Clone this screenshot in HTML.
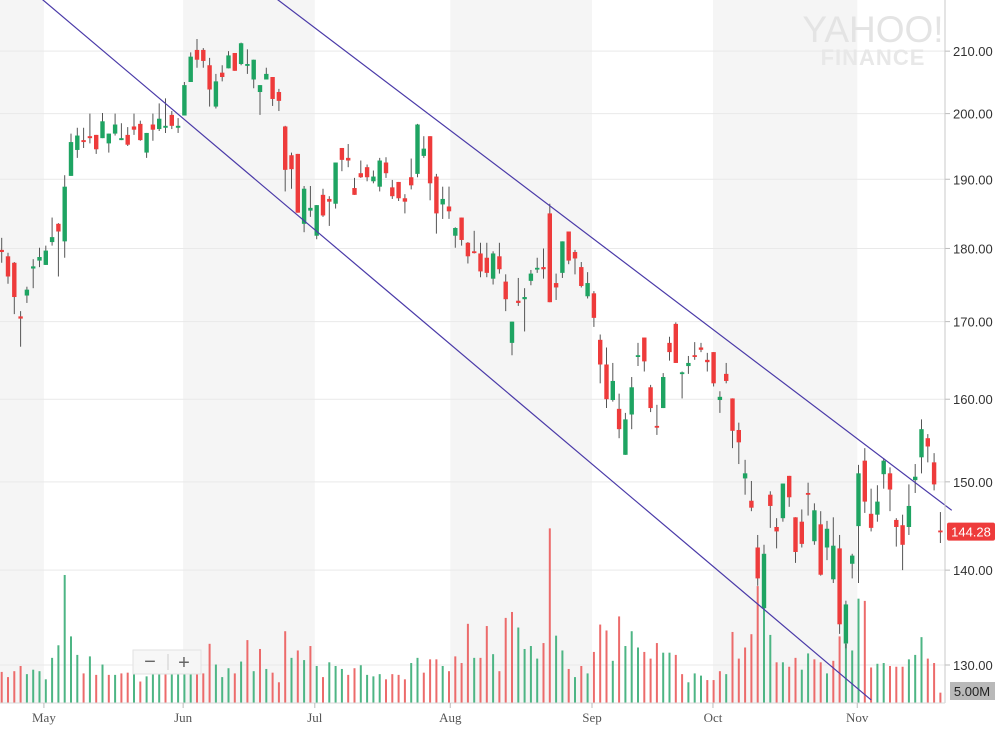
<!DOCTYPE html>
<html><head><meta charset="utf-8">
<style>
html,body{margin:0;padding:0;background:#fff;}
svg{display:block;font-family:"Liberation Sans",Arial,sans-serif;}
</style></head>
<body>
<svg id="chart" width="1000" height="734" viewBox="0 0 1000 734" xmlns="http://www.w3.org/2000/svg">
  <g id="bands"></g>
  <g id="grid"></g>
  <g>
    <text x="873" y="42" text-anchor="middle" font-size="37" fill="#e4e4e4" font-family="Liberation Sans, sans-serif">YAHOO!</text>
    <text x="873" y="65" text-anchor="middle" font-size="22" font-weight="bold" fill="#e8e8e8" letter-spacing="1">FINANCE</text>
  </g>
  <g id="vols"></g>
  <g id="candles"></g>
  <g id="trend"></g>
  <g id="axes"></g>
  <g>
    <rect x="133" y="650" width="68" height="24" fill="#f6f6f6" fill-opacity="0.9" stroke="#e2e2e2"/>
    <line x1="168" y1="654" x2="168" y2="670" stroke="#ccc"/>
    <text x="150" y="668" text-anchor="middle" font-size="20" fill="#666">−</text>
    <text x="184" y="669" text-anchor="middle" font-size="20" fill="#666">+</text>
  </g>
</svg>
<script>
const opens=[179.8,178.9,178,170.7,173.5,177.2,178.3,177.7,180.9,183.5,181,190.5,194.4,195.9,196.5,196.7,196.2,195.4,196.9,195.9,196.7,198,198.4,194,198.3,197.6,197.8,199.8,197.8,199.7,205,210.2,210.2,207.7,201.1,206.5,207.2,209.7,207.9,207.6,205.4,203.4,205.4,205.8,203.4,
198,193.6,193.8,183.5,185.4,181.8,187.7,187.1,186.4,194.7,193.2,188.7,190.9,191.8,189.7,188.9,192.5,188.8,189.6,187.2,190.3,190.8,193.5,196.5,190.4,186.3,186,181.8,184.4,180.8,
179.6,179.3,178.7,175.8,178.9,175.4,167.2,172.8,173,175.5,177.1,177.4,185,175.2,176.6,182.4,179.5,177.4,173.4,173.8,167.6,164.4,159.9,158.8,153.2,158.1,165.4,167.9,161.5,156.7,158.9,167.2,169.7,163.2,164.2,165.6,
166.6,165,166,159.9,163.2,160.1,156.2,150.4,147.8,142.5,135.9,148.5,144.8,145.8,150.7,145.9,145.4,148.7,143.2,145.1,142.5,139,142.4,132.2,140.7,144.9,152.5,146.3,146.2,150.9,151,145.6,145,144.8,150.2,152.9,155.2,152.3,144.4];
const highs=[181.5,179.4,178.1,171.4,174.7,178.5,180.1,180.4,184.4,183.6,190.6,196.9,197.8,197.8,200,196.7,200.1,196.9,200,198.5,197.9,200,198.9,197,200,201.6,202.4,200.4,199.3,205,209.8,212,210.5,208.9,206.3,207.7,210,209.7,211.4,210.3,208.6,204.5,207.3,205.8,203.9,
198.1,194,193.8,189,189,186.2,188.6,187.5,192.5,194.7,195.3,190.2,192.8,192.2,191.3,193.2,193.3,189.9,189.6,187.8,193.1,198.4,196.5,196.5,190.8,188.9,188.9,183,184.4,180.9,
182.5,180.8,180.8,179.6,180.8,176.4,170,175.9,174.5,177,178.7,180,186.4,176.5,181,182.4,179.8,178.1,176.7,174.1,168.3,166.6,164.6,160.7,158.3,162.8,167.2,167.9,161.8,159.3,163.3,168,169.9,163.5,165.5,167.3,
167.2,165.9,166,161,164.6,160.1,157.1,152.6,150.1,143.9,142.8,148.9,145.8,149.8,150.7,145.9,146.8,149.9,147.5,146.6,145.5,145.9,143.9,136.7,141.8,152,154,149.2,149.6,152.8,151.7,145.8,146.2,149.7,152.1,157.5,155.7,153.4,146.5];
const lows=[178,175.1,171,166.7,172.5,174.5,177.4,177.7,180.4,176.1,178.7,190.5,193.2,194.7,195.4,193.8,196.2,194,196.6,195.9,195,196.7,195.8,193.2,195.8,197.3,197,197.6,197,199.7,205,207.3,207.3,201.1,200.8,205.1,207.2,206.8,207.7,206.3,204,199.8,205.4,201.2,200.4,
188.2,188.6,185.1,182.3,184.5,181.3,184.5,183.2,185.7,191.2,191.8,187.7,190.2,189.7,189.4,188.2,190.2,187.1,186.8,185,188.5,190.3,193.2,186.9,182.1,184.2,184.2,180.1,180.4,177.9,
179.3,176,176,175,176.5,171.4,165.6,172.1,168.7,174.9,176.6,175.8,172.6,172.9,175.9,177.8,176.4,174.6,173.1,169.3,162,158.9,159.7,155.2,153.2,156.3,164.2,163.5,158.4,155.6,158.9,164.9,164.6,160.1,163.2,165,
166,163.5,161.6,158.3,162,154,152.1,148.5,146.6,138.3,135.9,144.7,142.4,145.4,147.1,140.8,142.5,146.1,142.8,139.4,141.1,138.6,133.2,131.7,139.1,138.6,146.4,144.3,145.4,149.2,146.6,142.6,140,143.9,148.7,151,152.3,149,143];
const closes=[179.5,176.1,173.3,170.4,174.3,177.5,178.8,179.7,181.6,182.4,188.9,195.6,196.6,195.6,196.2,194.5,198.8,196.9,198.3,196.2,195.2,197.5,195.9,197,197.5,199.2,198.1,198.1,198.1,204.5,209.1,208.6,208.4,203.8,205.1,205.8,209.3,206.8,211.3,207.9,208.6,204.5,206.3,202.3,202,
191.4,191.5,185.1,188.6,185.8,186.2,184.7,186.7,192.5,192.9,192.8,187.7,190.3,190.3,190.4,192.8,190.9,187.5,187.2,186.7,189.1,198.3,194.6,189.4,185,187.1,185.3,182.9,181.2,178.9,
179.4,176.8,176.6,179.3,177.1,173,170,172.5,173.3,176.5,177.3,177.1,172.6,174.6,181,178.3,178.6,174.8,175.2,170.5,164.4,160,162.3,156.3,157.5,161.5,165.6,164.8,158.9,156.5,162.8,166,164.6,163.4,164.6,165.4,
166.3,164.7,162,160.3,162.3,156.1,154.7,151,147,139.1,141.8,147.2,144.3,149.8,148.2,142,142.9,148.5,146.7,139.5,144.6,142.7,134.2,136.3,141.6,151,147.7,144.7,147.7,152.5,149.1,144.8,142.8,147.2,150.6,156.3,154.2,149.7,144.28];
const volumes=[4.2,3.5,4.3,5.0,3.9,4.5,4.3,3.2,6.1,7.8,17.3,9.0,6.5,4.0,6.3,3.8,5.2,3.8,3.8,4.0,4.1,4.0,2.9,3.6,3.9,3.9,3.9,3.9,3.9,3.9,3.9,3.9,4.0,8.0,5.2,3.5,4.7,4.0,5.6,8.5,4.3,7.3,4.6,4.1,2.8,
9.7,6.1,7.1,5.8,7.7,5.0,3.5,5.5,5.0,4.6,3.8,4.7,5.1,3.8,3.6,3.9,3.2,3.9,3.8,3.2,5.4,6.1,4.1,5.9,5.9,5.0,4.3,6.3,5.4,10.7,
6.1,6.1,10.4,6.6,4.3,11.5,12.3,10.2,7.3,7.7,6.0,8.1,23.6,9.1,7.1,4.6,3.5,5.0,4.0,6.9,10.6,9.8,5.7,11.7,7.7,9.7,7.5,6.9,6.0,8.1,6.8,6.8,6.5,3.9,2.8,4.0,
3.7,3.1,3.1,4.3,3.9,9.6,6.0,7.5,9.3,15.8,13.5,9.2,5.5,5.5,4.9,6.1,4.5,6.7,5.9,5.5,4.0,5.7,9.0,8.0,7.1,14.1,13.8,4.8,5.3,5.4,5.0,4.9,4.9,5.9,6.5,8.9,6.0,5.4,1.4];
const priceTicks=[130,140,150,160,170,180,190,200,210];
const monthLabels=["May","Jun","Jul","Aug","Sep","Oct","Nov"];
const monthStarts=[6.7,28.8,49.7,71.2,93.7,112.9,135.8];
const upperChannel=[[43.7,218.7],[150.8,146.7]];
const lowerChannel=[[6.4,218.7],[138,126.5]];
const lastPrice=144.28;

const NS="http://www.w3.org/2000/svg";
const X0=1.7, STEP=6.3, PLOT_R=945, BASE=703;
function xScale(i){return X0+i*STEP;}
function yScale(p){return 665-1280*Math.log(p/130);}
function vScale(v){return BASE-v*7.4;}
function mk(tag,attrs,parent){const e=document.createElementNS(NS,tag);for(const k in attrs)e.setAttribute(k,attrs[k]);parent.appendChild(e);return e;}

const bands=document.getElementById('bands');
const bandEdges=[0].concat(monthStarts.map(xScale)).concat([PLOT_R]);
for(let b=0;b<bandEdges.length-1;b++){
  if(b%2===0){
    const r=mk('rect',{x:bandEdges[b],y:0,width:bandEdges[b+1]-bandEdges[b],height:BASE,fill:'#f5f5f5'},bands);
    
    
  }
}
const grid=document.getElementById('grid');
const axes=document.getElementById('axes');
priceTicks.forEach(p=>{
  const y=yScale(p);
  const l=mk('line',{x1:0,x2:PLOT_R,y1:y,y2:y,stroke:'#e9e9e9','stroke-width':1},grid);
  
  
  const t=mk('line',{x1:PLOT_R,x2:PLOT_R+5,y1:y,y2:y,stroke:'#bbb'},axes);
  
  
  const tx=mk('text',{x:953,y:y+5,'font-size':13,fill:'#333'},axes);
  tx.textContent=p.toFixed(2);
  
  
});
const ax=mk('line',{x1:PLOT_R,x2:PLOT_R,y1:0,y2:BASE,stroke:'#c8c8c8'},axes);


const bx=mk('line',{x1:0,x2:PLOT_R,y1:BASE,y2:BASE,stroke:'#d8d8d8'},axes);


monthStarts.forEach((m,k)=>{
  const x=xScale(m);
  const t=mk('line',{x1:x,x2:x,y1:BASE,y2:BASE+5,stroke:'#bbb'},axes);
  
  
  const tx=mk('text',{x:x,y:722,'text-anchor':'middle','font-size':13,fill:'#555','font-family':'Liberation Serif, serif'},axes);
  tx.textContent=monthLabels[k];
  
  
});

const vols=document.getElementById('vols');
volumes.forEach((v,i)=>{
  const up=i===0?closes[i]>=opens[i]:closes[i]>=closes[i-1];
  const x=xScale(i);
  const r=mk('rect',{x:x-1,y:vScale(v),width:2,height:BASE-vScale(v),fill:up?'#4db584':'#ec6b6b'},vols);
  
  
});

const cg=document.getElementById('candles');
opens.forEach((o,i)=>{
  const c=closes[i],x=xScale(i);
  const up=c>=o;
  const g=mk('g',{},cg);
  
  
  mk('line',{x1:x,x2:x,y1:yScale(highs[i]),y2:yScale(lows[i]),stroke:'#555','stroke-width':1},g);
  const top=yScale(Math.max(o,c)),bot=yScale(Math.min(o,c));
  mk('rect',{x:x-2.2,y:top,width:4.4,height:Math.max(1.8,bot-top),fill:up?'#1ea462':'#ee3b3b'},g);
});

const tg=document.getElementById('trend');
[upperChannel,lowerChannel].forEach((seg,k)=>{
  const l=mk('line',{x1:xScale(seg[0][0]),y1:yScale(seg[0][1]),x2:xScale(seg[1][0]),y2:yScale(seg[1][1]),stroke:'#4a3aa8','stroke-width':1.2},tg);
  
  
});

const ly=yScale(lastPrice);
const lr=mk('rect',{x:947,y:ly-9,width:48,height:18,fill:'#ee3b3b',rx:2},axes);


const lt=mk('text',{x:971,y:ly+5,'text-anchor':'middle','font-size':13,fill:'#fff'},axes);
lt.textContent=lastPrice.toFixed(2);


const vr=mk('rect',{x:950,y:682,width:45,height:18,fill:'#b9b9b9'},axes);


const vt=mk('text',{x:972,y:696,'text-anchor':'middle','font-size':13,fill:'#222'},axes);
vt.textContent='5.00M';


</script>
</body></html>
